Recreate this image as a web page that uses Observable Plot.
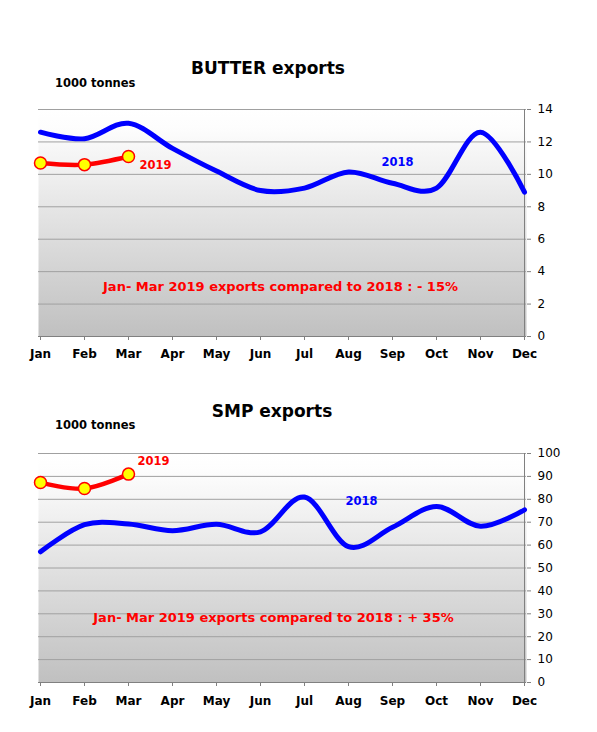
<!DOCTYPE html>
<html><head><meta charset="utf-8">
<script src="https://cdn.jsdelivr.net/npm/d3@7"></script>
<script src="https://cdn.jsdelivr.net/npm/@observablehq/plot@0.6"></script>
<style>
body{margin:0;background:#fff;font-family:"DejaVu Sans",Verdana,sans-serif;}
#wrap{position:relative;width:597px;height:732px;overflow:hidden;}
.t{position:absolute;font-weight:bold;line-height:1;white-space:nowrap;color:#000;}
.plot{position:absolute;left:0;}
</style></head><body><div id="wrap"></div>
<script>
const months = ["Jan","Feb","Mar","Apr","May","Jun","Jul","Aug","Sep","Oct","Nov","Dec"];
const butter2018 = [12.6, 12.2, 13.15, 11.6, 10.2, 9.0, 9.15, 10.15, 9.45, 9.15, 12.6, 8.9];
const butter2019 = [10.7, 10.6, 11.1];
const smp2018 = [57.1, 68.9, 69.2, 66.3, 69.1, 65.8, 81.0, 59.3, 67.8, 76.9, 68.2, 75.4];
const smp2019 = [87.3, 84.7, 91.0];
const butterTicks = [0, 2, 4, 6, 8, 10, 12, 14];
const smpTicks = [0, 10, 20, 30, 40, 50, 60, 70, 80, 90, 100];
const unitLabel = "1000 tonnes";
const butterTitle = "BUTTER exports";
const smpTitle = "SMP exports";
const butterNote = "Jan- Mar 2019 exports compared to 2018 : - 15%";
const smpNote = "Jan- Mar 2019 exports compared to 2018 : + 35%";

const wrap = document.getElementById("wrap");

function addText(txt, left, top, size, center) {
  const d = document.createElement("div");
  d.className = "t";
  d.textContent = txt;
  d.style.fontSize = size + "px";
  d.style.left = left + "px";
  d.style.top = top + "px";
  if (center) d.style.transform = "translateX(-50%)";
  wrap.appendChild(d);
}

function defsMark(id) {
  return () => {
    const ns = "http://www.w3.org/2000/svg";
    const defs = document.createElementNS(ns, "defs");
    const g = document.createElementNS(ns, "linearGradient");
    g.setAttribute("id", id);
    g.setAttribute("x1", "0"); g.setAttribute("y1", "0");
    g.setAttribute("x2", "0"); g.setAttribute("y2", "1");
    [["0", "#ffffff"], ["0.08", "#fdfdfd"], ["1", "#c0c0c0"]].forEach(([o, c]) => {
      const s = document.createElementNS(ns, "stop");
      s.setAttribute("offset", o); s.setAttribute("stop-color", c);
      g.appendChild(s);
    });
    defs.appendChild(g);
    return defs;
  };
}

function panel(cfg) {
  const d18 = months.map((m, i) => ({m, v: cfg.s18[i]}));
  const d19 = cfg.s19.map((v, i) => ({m: months[i], v}));
  const ymax = cfg.ticks[cfg.ticks.length - 1];
  const svg = Plot.plot({
    width: 597, height: cfg.height,
    marginLeft: 38, marginRight: 71, marginTop: 19, marginBottom: 30,
    style: {fontFamily: "DejaVu Sans, sans-serif", fontSize: "12px", color: "#000", background: "transparent", overflow: "visible"},
    x: {type: "point", domain: months, padding: 0},
    y: {domain: [0, ymax]},
    marks: [
      defsMark(cfg.id),
      Plot.frame({fill: `url(#${cfg.id})`, stroke: null}),
      Plot.gridY(cfg.ticks, {stroke: "#a0a0a0", strokeOpacity: 1}),
      Plot.ruleY([0], {stroke: "#808080"}),
      Plot.ruleX([months[months.length - 1]], {stroke: "#808080"}),
      Plot.axisY(cfg.ticks, {anchor: "right", tickSize: 4, tickPadding: 7, stroke: "#808080", label: null, fontSize: 12}),
      Plot.axisX(months, {tickSize: 4, tickPadding: cfg.xPad, stroke: "#808080", label: null, fontWeight: "bold", fontSize: 12}),
      Plot.line(d18, {x: "m", y: "v", stroke: "#0000ff", strokeWidth: 5, curve: "cardinal"}),
      Plot.line(d19, {x: "m", y: "v", stroke: "#ff0000", strokeWidth: 4.5, curve: "cardinal"}),
      Plot.dot(d19, {x: "m", y: "v", r: 6, fill: "#ffff00", stroke: "#ff0000", strokeWidth: 1.5}),
      Plot.text([{m: months[2], v: cfg.s19[2], t: "2019"}], {x: "m", y: "v", text: "t", dx: cfg.l19[0], dy: cfg.l19[1], textAnchor: "start", fill: "#ff0000", fontWeight: "bold", fontSize: 11.5}),
      Plot.text([{m: months[cfg.l18[0]], v: cfg.s18[cfg.l18[0]], t: "2018"}], {x: "m", y: "v", text: "t", dx: cfg.l18[1], dy: cfg.l18[2], textAnchor: "middle", fill: "#0000ff", fontWeight: "bold", fontSize: 11.5}),
      Plot.text([cfg.note], {frameAnchor: "bottom", dx: cfg.noteOff[0], dy: cfg.noteOff[1], textAnchor: "middle", fill: "#ff0000", fontWeight: "bold", fontSize: 13})
    ]
  });
  svg.classList.add("plot");
  svg.style.top = cfg.top + "px";
  wrap.appendChild(svg);
}

addText(butterTitle, 268, 60, 17, true);
addText(unitLabel, 55, 78, 11.5, false);
panel({id: "g1", top: 90, height: 276, ticks: butterTicks, s18: butter2018, s19: butter2019,
  l19: [11, 8.5], l18: [8, 5, -21], note: butterNote, noteOff: [-2, -46], xPad: 9});

addText(smpTitle, 272, 403, 17, true);
addText(unitLabel, 55, 420, 11.5, false);
panel({id: "g2", top: 434, height: 278, ticks: smpTicks, s18: smp2018, s19: smp2019,
  l19: [9, -13], l18: [7, 13, -45], note: smpNote, noteOff: [-9, -61], xPad: 10});
</script>
</body></html>
